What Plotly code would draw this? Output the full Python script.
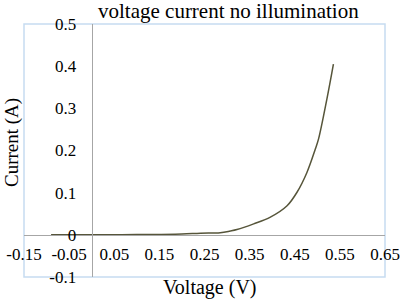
import plotly.graph_objects as go

voltage = [-0.09, 0.0, 0.10, 0.20, 0.241, 0.285, 0.307, 0.322, 0.359, 0.396, 0.433, 0.455, 0.477, 0.4956, 0.5026, 0.5212, 0.5357]
current = [0.0, 0.0, 0.0005, 0.002, 0.004, 0.005, 0.009, 0.0125, 0.026, 0.042, 0.069, 0.101, 0.148, 0.2035, 0.227, 0.322, 0.405]

x_ticks = [-0.15, -0.05, 0.05, 0.15, 0.25, 0.35, 0.45, 0.55, 0.65]
x_labels = ["-0.15", "-0.05", "0.05", "0.15", "0.25", "0.35", "0.45", "0.55", "0.65"]
y_ticks = [-0.1, 0.0, 0.1, 0.2, 0.3, 0.4, 0.5]
y_labels = ["-0.1", "0", "0.1", "0.2", "0.3", "0.4", "0.5"]

x_range = [-0.15, 0.65]
y_range = [-0.1, 0.5]

FONT = "Liberation Serif"

W, H = 401, 300
L, T = 24, 24
R, B = 16, 23
PW = W - L - R
PH = H - T - B


def px_x(x):
    return (x - L) / PW


def px_y(y):
    return 1 - (y - T) / PH


fig = go.Figure()
fig.add_trace(go.Scatter(
    x=voltage, y=current, mode="lines",
    line=dict(color="#56553a", width=1.5, shape="spline", smoothing=1.0),
    showlegend=False, hoverinfo="skip",
))

xpos = (0 - y_range[0]) / (y_range[1] - y_range[0])
ypos = (0 - x_range[0]) / (x_range[1] - x_range[0])

fig.update_layout(
    width=W, height=H,
    margin=dict(l=L, r=R, t=T, b=B, autoexpand=False),
    paper_bgcolor="white", plot_bgcolor="white",
    font=dict(family=FONT, color="black", size=17),
    xaxis=dict(
        range=x_range, tickvals=x_ticks, ticktext=x_labels,
        anchor="free", position=xpos, automargin=False,
        showline=True, linecolor="#a6a6a6", linewidth=1,
        showgrid=False, zeroline=False, ticks="",
        tickfont=dict(family=FONT, size=17, color="black"),
        ticklabelstandoff=4,
    ),
    yaxis=dict(
        range=y_range, tickvals=y_ticks, ticktext=y_labels,
        anchor="free", position=ypos, automargin=False,
        showline=True, linecolor="#a6a6a6", linewidth=1,
        showgrid=False, zeroline=False, ticks="",
        tickfont=dict(family=FONT, size=17, color="black"),
        ticklabelstandoff=12,
    ),
    shapes=[dict(type="rect", xref="paper", yref="paper", x0=0, y0=0, x1=1, y1=1,
                 line=dict(color="#c6dcf1", width=1.5), layer="below")],
    annotations=[
        dict(text="voltage current no illumination", xref="paper", yref="paper",
             x=px_x(228), y=px_y(11), xanchor="center", yanchor="middle",
             showarrow=False, font=dict(family=FONT, size=21, color="black")),
        dict(text="Voltage (V)", xref="paper", yref="paper",
             x=px_x(210), y=px_y(287), xanchor="center", yanchor="middle",
             showarrow=False, font=dict(family=FONT, size=20, color="black")),
        dict(text="Current (A)", xref="paper", yref="paper",
             x=px_x(12), y=px_y(143), xanchor="center", yanchor="middle",
             textangle=-90, showarrow=False, font=dict(family=FONT, size=19, color="black")),
    ],
)

fig.write_html("out.html", config={"displayModeBar": False},
               post_script="document.body.style.margin='0';")
